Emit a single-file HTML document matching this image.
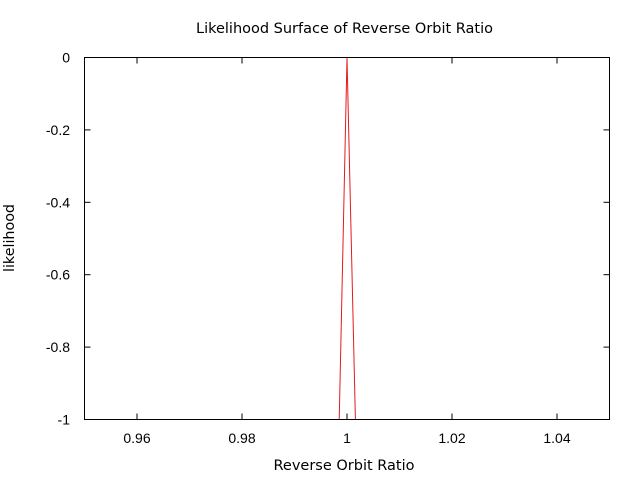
<!DOCTYPE html>
<html><head><meta charset="utf-8"><style>
html,body{margin:0;padding:0;background:#fff;width:640px;height:480px;overflow:hidden;}
svg{display:block;font-family:"Liberation Sans",sans-serif;font-size:14px;}
.ttl{font-family:"DejaVu Sans","Liberation Sans",sans-serif;font-size:14px;}
</style></head><body>
<svg id="chart" width="640" height="480">
<defs><clipPath id="clip"><rect x="84" y="57" width="525" height="362"/></clipPath></defs>
<text class="ttl" x="344.5" y="33" text-anchor="middle" textLength="297" lengthAdjust="spacingAndGlyphs">Likelihood Surface of Reverse Orbit Ratio</text>
<text class="ttl" x="344" y="470" text-anchor="middle" textLength="141" lengthAdjust="spacingAndGlyphs">Reverse Orbit Ratio</text>
<text class="ttl" x="14" y="238" text-anchor="middle" transform="rotate(-90 14 238)" textLength="68" lengthAdjust="spacingAndGlyphs">likelihood</text>
<g id="axes"></g>
<g id="series" clip-path="url(#clip)"></g>
<rect x="84.5" y="57.5" width="525" height="362" fill="none" stroke="#000" stroke-width="1"/>
</svg>
<script>
const xTicks = [0.96, 0.98, 1, 1.02, 1.04];
const xTickLabels = ["0.96", "0.98", "1", "1.02", "1.04"];
const yTicks = [0, -0.2, -0.4, -0.6, -0.8, -1];
const yTickLabels = ["0", "-0.2", "-0.4", "-0.6", "-0.8", "-1"];
const xs = [0.998, 1.0, 1.002];
const ys = [-1.35, 0, -1.25];

const L=84.5,R=609.5,T=57.5,B=419.5;
const xMin=0.95,xMax=1.05,yMin=-1,yMax=0;
function sx(v){return L+(v-xMin)/(xMax-xMin)*(R-L);}
function sy(v){return B-(v-yMin)/(yMax-yMin)*(B-T);}
const NS="http://www.w3.org/2000/svg";
const axes=document.getElementById('axes');
function mk(tag,attrs,parent){const e=document.createElementNS(NS,tag);for(const k in attrs)e.setAttribute(k,attrs[k]);parent.appendChild(e);return e;}
xTicks.forEach((v,i)=>{
  const x=sx(v);
  const t1=mk('line',{x1:x,x2:x,y1:B,y2:B-6,stroke:'#000'},axes);
  
  
  const t2=mk('line',{x1:x,x2:x,y1:T,y2:T+6,stroke:'#000'},axes);
  
  
  const tx=mk('text',{x:x,y:443,'text-anchor':'middle'},axes);
  tx.textContent=xTickLabels[i];
  
  
});
yTicks.forEach((v,i)=>{
  const y=sy(v);
  const t1=mk('line',{x1:L,x2:L+6,y1:y,y2:y,stroke:'#000'},axes);
  
  
  const t2=mk('line',{x1:R,x2:R-6,y1:y,y2:y,stroke:'#000'},axes);
  
  
  const tx=mk('text',{x:70,y:y+5,'text-anchor':'end'},axes);
  tx.textContent=yTickLabels[i];
  
  
});
const pts=xs.map((v,i)=>sx(v)+','+sy(ys[i])).join(' ');
const line=mk('polyline',{points:pts,fill:'none',stroke:'#e41a1c','stroke-width':1},document.getElementById('series'));


</script>
</body></html>
